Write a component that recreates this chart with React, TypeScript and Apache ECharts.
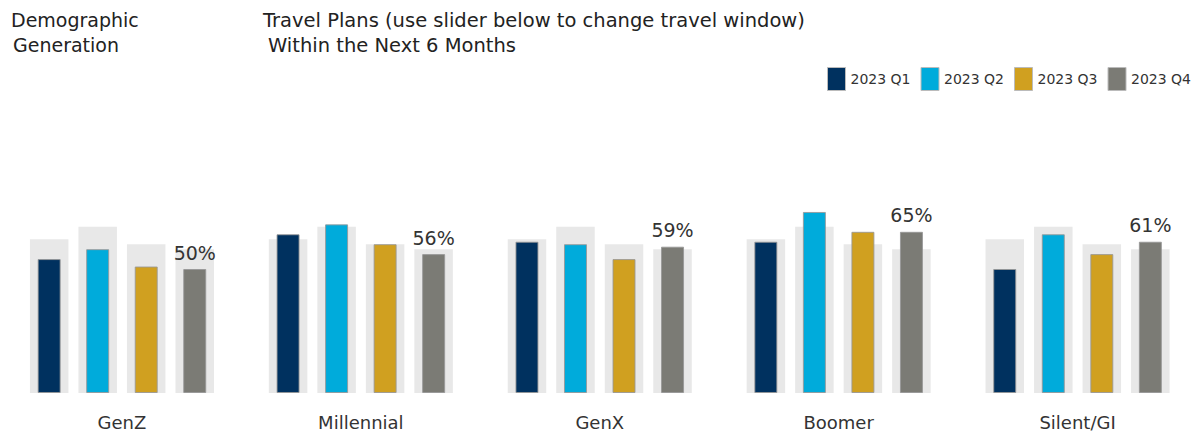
import React, { useEffect, useRef } from "react";
import * as echarts from "echarts";

const categories = ["GenZ", "Millennial", "GenX", "Boomer", "Silent/GI"];
const quarters = ["2023 Q1", "2023 Q2", "2023 Q3", "2023 Q4"];
const q1 = [54, 64, 61, 61, 50];
const q2 = [58, 68, 60, 73, 64];
const q3 = [51, 60, 54, 65, 56];
const q4 = [50, 56, 59, 65, 61];
const overall = [62, 67, 60, 58];

const colors = ["#00315f", "#00abdb", "#d0a020", "#7b7b75"];
const FONT = "'DejaVu Sans', Verdana, sans-serif";

export default function App() {
  const ref = useRef<HTMLDivElement>(null);
  useEffect(() => {
    if (!ref.current) return;
    const chart = echarts.init(ref.current, null, { renderer: "svg" });
    const values = [q1, q2, q3, q4];
    const bgSeries = quarters.map((q, i) => ({
      name: "bg" + i,
      type: "bar",
      xAxisIndex: 1,
      barWidth: 38.5,
      barGap: "26%",
      data: categories.map(() => overall[i]),
      itemStyle: { color: "#e8e8e8" },
      silent: true,
      z: 1,
    }));
    const mainSeries = quarters.map((q, i) => ({
      name: q,
      type: "bar",
      xAxisIndex: 0,
      barWidth: 23,
      barGap: "111%",
      data: values[i],
      itemStyle: { color: colors[i], borderColor: "rgba(150,150,150,0.85)", borderWidth: 1 },
      z: 3,
      label: {
        show: i === 3,
        position: "top",
        distance: 7,
        formatter: "{c}%",
        fontSize: 19,
        fontFamily: FONT,
        color: "#333",
      },
    }));
    chart.setOption({
      animation: false,
      textStyle: { fontFamily: FONT },
      grid: { left: 2.5, right: 2, top: 145, bottom: 39 },
      legend: {
        data: quarters,
        left: 822,
        top: 62,
        itemWidth: 18,
        itemHeight: 23,
        itemGap: 10,
        icon: "rect",
        itemStyle: { borderColor: "#bbbbbb", borderWidth: 1 },
        textStyle: { fontSize: 14, color: "#333", fontFamily: FONT },
        selectedMode: false,
      },
      xAxis: [
        {
          type: "category",
          data: categories,
          axisLine: { show: false },
          axisTick: { show: false },
          axisLabel: { fontSize: 18, color: "#333", margin: 20, fontFamily: FONT },
        },
        { type: "category", data: categories, show: false },
      ],
      yAxis: { type: "value", min: 0, max: 100, show: false },
      graphic: [
        { type: "text", left: 11, top: 10, style: { text: "Demographic", fontSize: 19, fill: "#222", fontFamily: FONT } },
        { type: "text", left: 13, top: 35, style: { text: "Generation", fontSize: 19, fill: "#222", fontFamily: FONT } },
        { type: "text", left: 263, top: 10, style: { text: "Travel Plans (use slider below to change travel window)", fontSize: 19.5, fill: "#222", fontFamily: FONT } },
        { type: "text", left: 268, top: 35, style: { text: "Within the Next 6 Months", fontSize: 19.5, fill: "#222", fontFamily: FONT } },
      ],
      series: [...bgSeries, ...mainSeries],
    });
    return () => chart.dispose();
  }, []);
  return (
    <div style={{ position: "absolute", left: 0, top: 0, width: 1199, height: 432, background: "#fff" }}>
      <div ref={ref} style={{ width: 1199, height: 432 }} />
    </div>
  );
}
